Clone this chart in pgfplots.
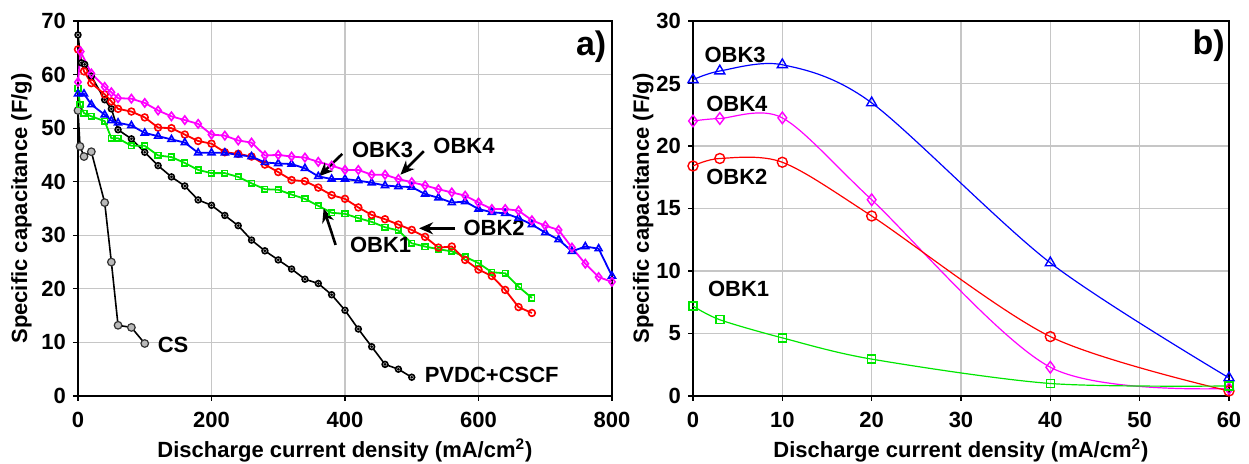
\documentclass[border=0pt]{standalone}
\usepackage{fontspec}
\setmainfont{Liberation Sans}
\usepackage{pgfplots}
\pgfplotsset{compat=1.18}
\usetikzlibrary{arrows.meta}
\definecolor{cR}{RGB}{255,0,0}
\definecolor{cG}{RGB}{0,230,0}
\definecolor{cB}{RGB}{0,0,255}
\definecolor{cM}{RGB}{255,0,255}
\tikzset{arr/.style={-{Stealth[length=7pt,width=6pt]}, line width=1.3pt, black}}
\begin{document}
\begin{tikzpicture}[font=\fontsize{11}{13}\selectfont\bfseries]
\path[use as bounding box] (-39pt,-34pt) rectangle (585.5pt,198pt);
\pgfplotsset{
  panel/.style={
    scale only axis, height=187.5pt,
    axis line style={line width=1pt},
    grid=major, major grid style={gray!45, line width=0.6pt},
    tick pos=left, tick align=outside, major tick length=2.5pt,
    tick style={black, line width=0.6pt},
    /pgf/number format/assume math mode=true,
    ticklabel style={font=\fontsize{11}{13}\selectfont\bfseries},
    xticklabel style={yshift=-2pt},
    every axis x label/.style={at={(axis description cs:0.5,0)}, anchor=center, yshift=-27pt},
    label style={font=\fontsize{11}{13}\selectfont\bfseries},
    clip=false,
  },
}

% ---------- panel a ----------
\begin{axis}[panel, width=267pt,
  xmin=0, xmax=800, ymin=0, ymax=70,
  xtick={0,200,...,800}, ytick={0,10,...,70},
  xlabel={Discharge current density (mA/cm\textsuperscript{2})},
  ylabel={Specific capacitance (F/g)},
  every axis y label/.style={at={(axis description cs:-0.106,0.5)}, rotate=90, anchor=center},
]
% PVDC+CSCF
\addplot[black, line width=0.8pt, mark=*, mark size=1.45pt, mark options={fill=gray!35, line width=0.8pt}] coordinates {
(0,67.4) (5,62.2) (10,61.9) (20,59.7) (40,55.3) (50,53.6) (60,49.7) (80,48.0)
(100,45.5) (120,43.0) (140,40.9) (160,39.2) (180,36.6) (200,35.6) (220,33.7)
(240,31.8) (260,29.1) (280,27.1) (300,25.4) (320,23.7) (340,21.8) (360,21.0)
(380,18.9) (400,16.0) (420,12.5) (440,9.2) (460,5.9) (480,5.0) (500,3.5)};
\addplot[only marks, black, mark=*, mark size=0.45pt] coordinates {
(0,67.4) (5,62.2) (10,61.9) (20,59.7) (40,55.3) (50,53.6) (60,49.7) (80,48.0)
(100,45.5) (120,43.0) (140,40.9) (160,39.2) (180,36.6) (200,35.6) (220,33.7)
(240,31.8) (260,29.1) (280,27.1) (300,25.4) (320,23.7) (340,21.8) (360,21.0)
(380,18.9) (400,16.0) (420,12.5) (440,9.2) (460,5.9) (480,5.0) (500,3.5)};
% CS
\addplot[black, line width=0.8pt, mark=*, mark size=1.9pt, mark options={fill=gray!55, draw=black!80, line width=0.6pt}] coordinates {
(0,53.3) (3,46.6) (9,44.7) (20,45.6) (40,36.1) (50,25.0) (60,13.2) (80,12.8) (100,9.8)};
% OBK1
\addplot[cG, line width=0.9pt, mark=square, mark size=1.4pt, mark options={line width=0.8pt}] coordinates {
(0,57.4) (3,54.4) (9,52.8) (20,52.2) (40,51.3) (50,48.1) (60,48.1) (80,46.7)
(100,46.7) (120,44.9) (140,44.6) (160,43.5) (180,42.2) (200,41.6) (220,41.6)
(240,40.9) (260,39.7) (280,38.6) (300,38.5) (320,37.6) (340,36.8) (360,35.5)
(380,34.2) (400,34.0) (420,33.2) (440,32.5) (460,31.5) (480,30.9) (500,28.5)
(520,27.9) (540,27.4) (560,27.0) (580,26.0) (600,24.8) (620,23.1) (640,22.9)
(660,20.4) (680,18.3)};
% OBK2
\addplot[cR, line width=0.9pt, mark=o, mark size=1.7pt, mark options={line width=0.8pt}] coordinates {
(0,64.7) (9,60.6) (20,58.4) (40,56.3) (50,55.0) (60,53.6) (80,53.1) (100,52.0)
(120,50.1) (140,50.0) (160,48.8) (180,47.6) (200,47.1) (220,45.5) (240,45.2)
(260,44.7) (280,43.2) (300,41.8) (320,40.3) (340,40.1) (360,38.9) (380,37.5)
(400,36.8) (420,35.2) (440,33.8) (460,33.0) (480,32.0) (500,31.0) (520,29.7)
(540,27.7) (560,27.9) (580,25.4) (600,23.6) (620,22.4) (640,19.8) (660,16.6)
(680,15.5)};
% OBK3
\addplot[cB, line width=0.9pt, mark=triangle, mark size=2.0pt, mark options={line width=0.8pt}] coordinates {
(0,56.4) (9,56.4) (20,54.4) (40,52.5) (50,51.4) (60,51.0) (80,50.5) (100,49.1)
(120,48.5) (140,47.9) (160,47.3) (180,45.4) (200,45.4) (220,45.4) (240,45.0)
(260,44.7) (280,43.6) (300,43.4) (320,43.3) (340,42.5) (360,41.0) (380,40.5)
(400,40.5) (420,40.2) (440,39.8) (460,39.3) (480,39.1) (500,39.0) (520,37.7)
(540,37.0) (560,36.1) (580,36.3) (600,34.9) (620,34.3) (640,34.1) (660,33.2)
(680,32.0) (700,30.5) (720,29.2) (740,27.0) (760,27.9) (780,27.5) (800,22.4)};
% OBK4
\addplot[cM, line width=0.9pt, mark=diamond, mark size=2.1pt, mark options={line width=0.8pt}] coordinates {
(0,58.6) (4,64.3) (20,60.2) (40,57.7) (50,56.7) (60,55.6) (80,55.5) (100,54.7)
(120,53.3) (140,52.2) (160,51.5) (180,50.8) (200,48.8) (220,48.6) (240,47.7)
(260,47.3) (280,44.9) (300,45.0) (320,44.7) (340,44.5) (360,43.7) (380,43.0)
(400,42.2) (420,42.2) (440,41.3) (460,41.3) (480,40.5) (500,39.9) (520,39.3)
(540,38.6) (560,38.0) (580,37.4) (600,36.1) (620,34.9) (640,34.9) (660,34.6)
(680,32.8) (700,31.8) (720,31.0) (740,27.7) (760,24.7) (780,22.2) (800,21.3)};

\node[anchor=west] at (axis cs:400,46.0) {OBK3};
\draw[arr] (axis cs:396,45.2) -- (axis cs:361,41.0);
\node[anchor=west] at (axis cs:522,46.6) {OBK4};
\draw[arr] (axis cs:518,45.7) -- (axis cs:483,41.3);
\node[anchor=west] at (axis cs:567,31.3) {OBK2};
\draw[arr] (axis cs:565,31.3) -- (axis cs:511,31.3);
\node[anchor=west] at (axis cs:397,28.2) {OBK1};
\draw[arr] (axis cs:386,28.2) -- (axis cs:368,35.0);
\node[anchor=west] at (axis cs:509,3.9) {PVDC+CSCF};
\node[anchor=west] at (axis cs:109,9.5) {CS};
\node[anchor=east, font=\fontsize{17}{19}\selectfont\bfseries] at (axis cs:802,65.2) {a)};
\end{axis}

% ---------- panel b ----------
\begin{axis}[panel, width=268pt, xshift=307.5pt,
  xmin=0, xmax=60, ymin=0, ymax=30,
  xtick={0,10,...,60}, ytick={0,5,...,30},
  xlabel={Discharge current density (mA/cm\textsuperscript{2})},
  ylabel={Specific capacitance (F/g)},
  every axis y label/.style={at={(axis description cs:-0.093,0.5)}, rotate=90, anchor=center},
]
\addplot[cB, line width=0.6pt, smooth, mark=triangle, mark size=2.9pt, mark options={line width=0.7pt}] coordinates {
(0,25.3) (3,26.0) (10,26.5) (20,23.45) (40,10.65) (60,1.45)};
\addplot[cM, line width=0.6pt, smooth, mark=diamond, mark size=2.9pt, mark options={line width=0.7pt}] coordinates {
(0,22.0) (3,22.2) (10,22.25) (20,15.7) (40,2.3) (60,0.6)};
\addplot[cR, line width=0.6pt, smooth, mark=o, mark size=2.5pt, mark options={line width=0.7pt}] coordinates {
(0,18.4) (3,19.0) (10,18.7) (20,14.4) (40,4.75) (60,0.4)};
\addplot[cG, line width=0.6pt, smooth, mark=square, mark size=2.0pt, mark options={line width=0.7pt}] coordinates {
(0,7.2) (3,6.1) (10,4.65) (20,2.95) (40,1.0) (60,0.8)};
\node[anchor=west] at (axis cs:0.5,27.3) {OBK3};
\node[anchor=west] at (axis cs:0.7,23.4) {OBK4};
\node[anchor=west] at (axis cs:0.7,17.5) {OBK2};
\node[anchor=west] at (axis cs:0.9,8.6) {OBK1};
\node[anchor=east, font=\fontsize{17}{19}\selectfont\bfseries] at (axis cs:60.3,28.0) {b)};
\end{axis}
\end{tikzpicture}
\end{document}
